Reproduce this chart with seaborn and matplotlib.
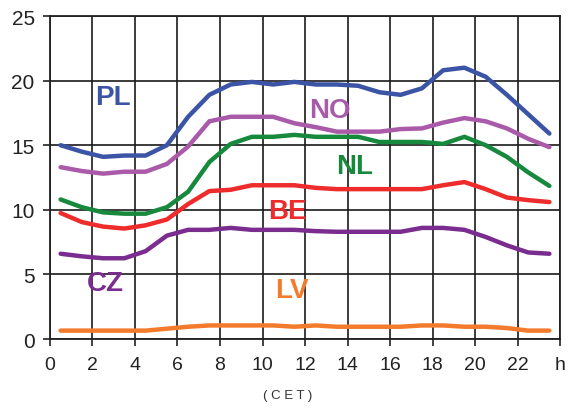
import numpy as np
import pandas as pd
import matplotlib
matplotlib.use("Agg")
import matplotlib.pyplot as plt
import seaborn as sns

# hourly profiles (points sit mid-hour, 0.5 .. 23.5)
hours = [h + 0.5 for h in range(24)]
pl = [15.0, 14.5, 14.1, 14.2, 14.2, 15.0, 17.2, 18.9, 19.7, 19.9, 19.7, 19.9,
      19.7, 19.7, 19.6, 19.1, 18.9, 19.4, 20.8, 21.0, 20.3, 18.9, 17.4, 15.9]
no = [13.3, 13.0, 12.8, 12.95, 12.95, 13.55, 14.9, 16.85, 17.2, 17.2, 17.2, 16.7,
      16.4, 16.05, 16.05, 16.05, 16.25, 16.3, 16.75, 17.1, 16.85, 16.3, 15.5, 14.85]
nl = [10.8, 10.2, 9.8, 9.7, 9.7, 10.2, 11.4, 13.7, 15.1, 15.65, 15.65, 15.8,
      15.65, 15.65, 15.65, 15.25, 15.25, 15.25, 15.1, 15.65, 15.0, 14.1, 12.9, 11.85]
be = [9.75, 9.05, 8.7, 8.55, 8.8, 9.25, 10.45, 11.45, 11.55, 11.9, 11.9, 11.9,
      11.7, 11.6, 11.6, 11.6, 11.6, 11.6, 11.9, 12.15, 11.6, 10.95, 10.75, 10.6]
cz = [6.6, 6.4, 6.25, 6.25, 6.8, 8.0, 8.45, 8.45, 8.6, 8.45, 8.45, 8.45,
      8.35, 8.3, 8.3, 8.3, 8.3, 8.6, 8.6, 8.45, 7.9, 7.25, 6.7, 6.6]
lv = [0.65, 0.65, 0.65, 0.65, 0.65, 0.8, 0.95, 1.05, 1.05, 1.05, 1.05, 0.95,
      1.05, 0.95, 0.95, 0.95, 0.95, 1.05, 1.05, 0.95, 0.95, 0.85, 0.65, 0.65]

countries = ["PL", "NO", "NL", "BE", "CZ", "LV"]
colors = {"PL": "#3b54a5", "NO": "#a95aa9", "NL": "#17893d",
          "BE": "#ee2c2c", "CZ": "#7a2d8e", "LV": "#f47a2c"}
# label anchors (hour, value)
label_pos = {"PL": (2.95, 18.7), "NO": (13.15, 17.7), "NL": (14.35, 13.4),
             "BE": (11.15, 9.9), "CZ": (2.6, 4.3), "LV": (11.4, 3.8)}

df = pd.DataFrame({"hour": hours * 6,
                   "country": np.repeat(countries, 24),
                   "load": pl + no + nl + be + cz + lv})

sns.set_theme(style="white")
plt.rcParams["font.family"] = ["Liberation Sans", "DejaVu Sans"]

fig = plt.figure(figsize=(5.7, 4.1), dpi=100)
ax = fig.add_axes([0.0877, 0.1707, 0.8948, 0.7878])

sns.lineplot(data=df, x="hour", y="load", hue="country", palette=colors,
             linewidth=3.2, legend=False, ax=ax, zorder=3)

for c, (x, y) in label_pos.items():
    ax.text(x, y, c, color=colors[c], fontsize=20, fontweight="bold",
            ha="center", va="center", zorder=4)

ax.set_xlim(0, 24)
ax.set_ylim(0, 25)
ax.set_xticks(range(0, 25, 2))
ax.set_xticklabels([str(h) for h in range(0, 24, 2)] + ["h"])
ax.set_yticks(range(0, 26, 5))
ax.grid(True, color="#1a1a1a", linewidth=1.2)
ax.set_axisbelow(True)
for s in ax.spines.values():
    s.set_color("#222222")
    s.set_linewidth(1.3)
ax.tick_params(axis="both", direction="out", length=5, width=1.2,
               color="#222222", labelsize=14, labelcolor="#222222",
               bottom=True, left=True, pad=7)
ax.tick_params(axis="y", labelsize=15, pad=6)
ax.set_xlabel("")
ax.set_ylabel("")

fig.text(0.505, 0.035, "( C E T )", ha="center", va="center",
         fontsize=9.5, color="#333333")

fig.savefig("out.png", dpi=100)
